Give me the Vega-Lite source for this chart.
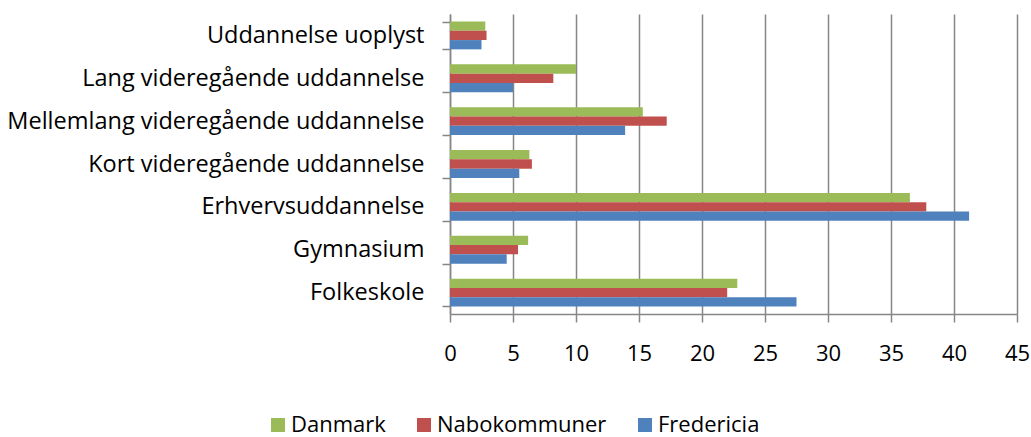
{
  "$schema": "https://vega.github.io/schema/vega-lite/v6.json",
  "width": 567,
  "height": 300,
  "autosize": {"type": "none"},
  "padding": {"left": 450, "top": 14, "right": 14, "bottom": 123},
  "background": "white",
  "data": {
    "values": [
      {"kategori": "Uddannelse uoplyst", "serie": "Danmark", "v": 2.8},
      {"kategori": "Uddannelse uoplyst", "serie": "Nabokommuner", "v": 2.9},
      {"kategori": "Uddannelse uoplyst", "serie": "Fredericia", "v": 2.5},
      {"kategori": "Lang videregående uddannelse", "serie": "Danmark", "v": 10.0},
      {"kategori": "Lang videregående uddannelse", "serie": "Nabokommuner", "v": 8.2},
      {"kategori": "Lang videregående uddannelse", "serie": "Fredericia", "v": 5.0},
      {"kategori": "Mellemlang videregående uddannelse", "serie": "Danmark", "v": 15.3},
      {"kategori": "Mellemlang videregående uddannelse", "serie": "Nabokommuner", "v": 17.2},
      {"kategori": "Mellemlang videregående uddannelse", "serie": "Fredericia", "v": 13.9},
      {"kategori": "Kort videregående uddannelse", "serie": "Danmark", "v": 6.3},
      {"kategori": "Kort videregående uddannelse", "serie": "Nabokommuner", "v": 6.5},
      {"kategori": "Kort videregående uddannelse", "serie": "Fredericia", "v": 5.5},
      {"kategori": "Erhvervsuddannelse", "serie": "Danmark", "v": 36.5},
      {"kategori": "Erhvervsuddannelse", "serie": "Nabokommuner", "v": 37.8},
      {"kategori": "Erhvervsuddannelse", "serie": "Fredericia", "v": 41.2},
      {"kategori": "Gymnasium", "serie": "Danmark", "v": 6.2},
      {"kategori": "Gymnasium", "serie": "Nabokommuner", "v": 5.4},
      {"kategori": "Gymnasium", "serie": "Fredericia", "v": 4.5},
      {"kategori": "Folkeskole", "serie": "Danmark", "v": 22.8},
      {"kategori": "Folkeskole", "serie": "Nabokommuner", "v": 22.0},
      {"kategori": "Folkeskole", "serie": "Fredericia", "v": 27.5}
    ]
  },
  "mark": {"type": "bar"},
  "encoding": {
    "y": {
      "field": "kategori",
      "type": "nominal",
      "sort": null,
      "scale": {"paddingInner": 0.35, "paddingOuter": 0.175},
      "axis": {
        "title": null,
        "tickBand": "extent",
        "tickSize": 8,
        "tickColor": "#868686",
        "tickWidth": 1.5,
        "domainColor": "#868686",
        "domainWidth": 1.5,
        "labelFont": "Open Sans",
        "labelFontSize": 23.5,
        "labelColor": "#000000",
        "labelPadding": 18,
        "labelLimit": 0,
        "grid": false
      }
    },
    "yOffset": {
      "field": "serie",
      "type": "nominal",
      "sort": ["Danmark", "Nabokommuner", "Fredericia"]
    },
    "x": {
      "field": "v",
      "type": "quantitative",
      "scale": {"domain": [0, 45], "nice": false},
      "axis": {
        "title": null,
        "values": [0, 5, 10, 15, 20, 25, 30, 35, 40, 45],
        "grid": true,
        "gridColor": "#868686",
        "gridWidth": 1.5,
        "gridOpacity": 1,
        "tickSize": 8,
        "tickColor": "#868686",
        "tickWidth": 1.5,
        "domainColor": "#868686",
        "domainWidth": 1.5,
        "labelFont": "Open Sans",
        "labelFontSize": 22,
        "labelColor": "#000000",
        "labelPadding": 21,
        "labelFlush": false
      }
    },
    "color": {
      "field": "serie",
      "type": "nominal",
      "scale": {
        "domain": ["Danmark", "Nabokommuner", "Fredericia"],
        "range": ["#9BBB59", "#C0504D", "#4F81BD"]
      },
      "legend": {
        "title": null,
        "orient": "none",
        "direction": "horizontal",
        "legendX": -183,
        "legendY": 400,
        "symbolType": "square",
        "symbolSize": 196,
        "symbolStrokeWidth": 0,
        "labelFont": "Open Sans",
        "labelFontSize": 22,
        "labelColor": "#000000",
        "labelOffset": 2,
        "columnPadding": 27,
        "labelLimit": 0
      }
    }
  },
  "config": {
    "view": {"stroke": null}
  }
}
